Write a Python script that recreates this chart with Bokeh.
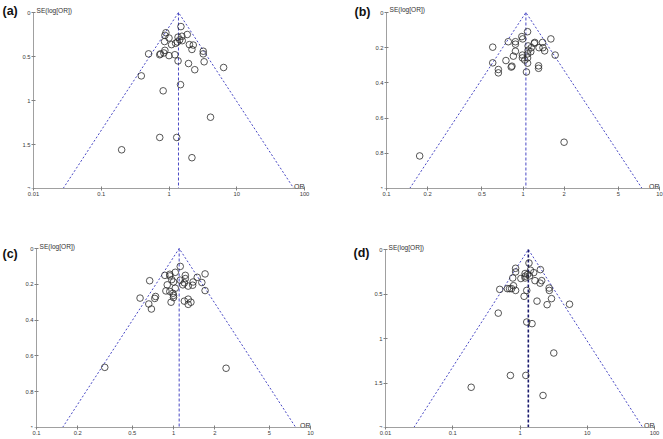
import math
from bokeh.plotting import figure
from bokeh.layouts import gridplot
from bokeh.models import Range1d, FixedTicker, Label
from bokeh.embed import file_html
from bokeh.resources import INLINE

# ---------------- data ----------------
a_or = [1.50, 0.90, 0.87, 1.00, 1.86, 1.55, 1.36, 1.44, 1.57, 1.33, 0.86, 1.25, 1.09, 2.00,
        2.28, 2.18, 0.87, 0.84, 0.75, 0.50, 1.00, 1.22, 3.20, 3.20, 1.36, 1.94, 3.30, 2.40,
        6.40, 0.39, 1.48, 0.82, 4.10, 0.73, 1.30, 0.20, 2.18, 0.73]
a_se = [0.16, 0.23, 0.26, 0.29, 0.25, 0.27, 0.28, 0.31, 0.32, 0.335, 0.33, 0.35, 0.365, 0.365,
        0.37, 0.42, 0.43, 0.46, 0.47, 0.47, 0.49, 0.48, 0.44, 0.47, 0.55, 0.58, 0.56, 0.65,
        0.625, 0.72, 0.82, 0.89, 1.19, 1.42, 1.42, 1.56, 1.65, 0.48]
a_center = 1.38

b_or = [1.08, 0.98, 0.995, 0.78, 0.88, 0.88, 0.60, 1.60, 1.39, 1.22, 1.21, 1.09, 1.15, 1.09,
        1.31, 1.40, 1.44, 1.14, 0.88, 1.08, 1.72, 0.99, 0.85, 0.99, 1.03, 1.08, 0.75, 0.60,
        1.08, 0.83, 0.82, 1.30, 1.30, 0.66, 0.66, 1.06, 0.175, 2.00]
b_se = [0.109, 0.137, 0.15, 0.166, 0.166, 0.18, 0.197, 0.15, 0.17, 0.17, 0.175, 0.19, 0.20, 0.214,
        0.20, 0.20, 0.218, 0.223, 0.22, 0.235, 0.242, 0.242, 0.248, 0.258, 0.27, 0.258, 0.273, 0.286,
        0.288, 0.305, 0.31, 0.303, 0.317, 0.324, 0.343, 0.338, 0.815, 0.737]
b_center = 1.05

c_or = [1.12, 1.03, 0.865, 0.94, 0.94, 1.22, 1.22, 1.70, 1.49, 1.12, 0.97, 0.67, 1.00, 1.20,
        1.39, 1.61, 1.17, 0.90, 1.28, 1.38, 1.70, 1.03, 0.88, 0.94, 0.99, 1.00, 1.00, 0.57,
        0.74, 0.73, 1.28, 1.20, 1.34, 0.96, 1.28, 0.66, 0.69, 0.315, 2.42]
c_se = [0.10, 0.133, 0.15, 0.144, 0.153, 0.15, 0.168, 0.142, 0.161, 0.177, 0.174, 0.18, 0.187, 0.192,
        0.187, 0.19, 0.203, 0.203, 0.21, 0.205, 0.235, 0.222, 0.237, 0.24, 0.25, 0.262, 0.274, 0.277,
        0.268, 0.279, 0.283, 0.294, 0.30, 0.30, 0.312, 0.31, 0.338, 0.664, 0.669]
c_center = 1.10

d_or = [1.36, 0.86, 0.86, 1.43, 2.01, 1.60, 1.19, 1.30, 1.39, 1.19, 0.78, 1.03, 1.19, 1.67,
        2.10, 1.99, 0.80, 2.71, 2.73, 0.50, 0.65, 0.75, 0.86, 1.26, 1.15, 1.79, 2.94, 2.53,
        5.45, 0.475, 1.26, 1.51, 3.18, 0.72, 1.22, 0.188, 2.20, 0.70]
d_se = [0.152, 0.211, 0.252, 0.233, 0.226, 0.26, 0.27, 0.28, 0.296, 0.30, 0.32, 0.326, 0.32, 0.35,
        0.35, 0.378, 0.407, 0.433, 0.46, 0.448, 0.44, 0.44, 0.46, 0.46, 0.526, 0.58, 0.552, 0.62,
        0.615, 0.715, 0.815, 0.833, 1.163, 1.415, 1.415, 1.548, 1.64, 0.44]
d_center = 1.33

wide_x_ticks = [0.01, 0.1, 1, 10, 100]
wide_x_labels = ["0.01", "0.1", "1", "10", "100"]
narrow_x_ticks = [0.1, 0.2, 0.5, 1, 2, 5, 10]
narrow_x_labels = ["0.1", "0.2", "0.5", "1", "2", "5", "10"]
wide_y_ticks = [0, 0.5, 1, 1.5, 2]
wide_y_labels = ["0", "0.5", "1", "1.5", "2"]
narrow_y_ticks = [0, 0.2, 0.4, 0.6, 0.8, 1]
narrow_y_labels = ["0", "0.2", "0.4", "0.6", "0.8", "1"]

FONT = "Liberation Sans"
FUNNEL = "#4848c4"


def funnel_panel(tag, ors, ses, center, xticks, xlabels, yticks, ylabels,
                 width, height, bottom, px_left, px_right, px_top,
                 tag_off, se_off, center_color, center_width):
    xmin, xmax = xticks[0], xticks[-1]
    ymax = yticks[-1]
    # pixel layout of the frame -> ranges (frame spans the whole figure width)
    frame_h = height - bottom
    dec_per_px = (math.log10(xmax) - math.log10(xmin)) / (px_right - px_left)
    x_start = 10 ** (math.log10(xmin) - px_left * dec_per_px)
    x_end = 10 ** (math.log10(xmin) + (width - px_left) * dec_per_px)
    y_top = -px_top * ymax / (frame_h - px_top)

    p = figure(width=width, height=height, x_axis_type="log",
               x_range=Range1d(x_start, x_end), y_range=Range1d(ymax, y_top),
               output_backend="svg", toolbar_location=None,
               min_border_left=0, min_border_right=0,
               min_border_top=0, min_border_bottom=bottom)
    p.outline_line_color = None
    p.grid.visible = False
    p.background_fill_color = "white"
    p.border_fill_color = "white"

    for ax in (p.xaxis[0], p.yaxis[0]):
        ax.axis_line_color = "#a0a0a0"
        ax.axis_line_width = 1
        ax.major_tick_line_color = "#808080"
        ax.major_tick_in = 2
        ax.major_tick_out = 2
        ax.minor_tick_line_color = None
        ax.major_label_text_font = FONT
        ax.major_label_text_font_size = "5.8px"
        ax.major_label_text_color = "#3a3a3a"
        ax.major_label_standoff = 1
    p.xaxis.ticker = FixedTicker(ticks=xticks)
    p.xaxis.major_label_overrides = {t: l for t, l in zip(xticks, xlabels)}
    p.xaxis.bounds = (xmin, xmax)
    p.yaxis.ticker = FixedTicker(ticks=yticks)
    p.yaxis.major_label_overrides = {t: l for t, l in zip(yticks, ylabels)}
    p.yaxis.bounds = (0, ymax)
    p.yaxis.fixed_location = xmin

    # funnel (95% pseudo-confidence limits around the pooled OR)
    k = 1.96 * ymax / math.log(10)
    lo = center * 10 ** (-k)
    hi = center * 10 ** (k)
    p.line([lo, center, hi], [ymax, 0, ymax], line_color=FUNNEL, line_width=1,
           line_dash="2 2")
    p.line([center, center], [0, ymax], line_color=center_color, line_width=center_width,
           line_dash="3 2")

    p.scatter(ors, ses, marker="circle", size=6.6, fill_color=None,
              line_color="#2b2b2b", line_width=0.8)

    p.add_layout(Label(x=xmin, y=0, text="SE(log[OR])", x_offset=se_off[0], y_offset=se_off[1],
                       text_font=FONT, text_font_size="6.6px", text_color="#333333",
                       text_baseline="alphabetic", text_align="left"))
    p.add_layout(Label(x=xmax, y=ymax, text="OR", x_offset=0, y_offset=2,
                       text_font=FONT, text_font_size="7px", text_color="#333333",
                       text_baseline="alphabetic", text_align="right"))
    p.add_layout(Label(x=xmin, y=0, text=tag, x_offset=tag_off[0], y_offset=tag_off[1],
                       text_font=FONT, text_font_size="12.5px", text_font_style="bold",
                       text_color="#111111", text_baseline="alphabetic", text_align="left"))
    return p


pa = funnel_panel("(a)", a_or, a_se, a_center, wide_x_ticks, wide_x_labels,
                  wide_y_ticks, wide_y_labels, 331, 219, 31, 33, 304, 12,
                  (-31, 1.5), (3, 2), FUNNEL, 1)
pb = funnel_panel("(b)", b_or, b_se, b_center, narrow_x_ticks, narrow_x_labels,
                  narrow_y_ticks, narrow_y_labels, 332, 219, 31, 55, 328, 12,
                  (-32, 0.5), (3, 3), FUNNEL, 1)
pc = funnel_panel("(c)", c_or, c_se, c_center, narrow_x_ticks, narrow_x_labels,
                  narrow_y_ticks, narrow_y_labels, 331, 220, 12, 36, 310, 29,
                  (-34, -5.5), (3, 2), FUNNEL, 1)
pd = funnel_panel("(d)", d_or, d_se, d_center, wide_x_ticks, wide_x_labels,
                  wide_y_ticks, wide_y_labels, 332, 220, 12, 54, 323, 30,
                  (-32, -3.5), (3, 2), "#1a1a6e", 1.6)

grid = gridplot([[pa, pb], [pc, pd]], toolbar_location=None)

open("out.html", "w").write(file_html(grid, INLINE))
